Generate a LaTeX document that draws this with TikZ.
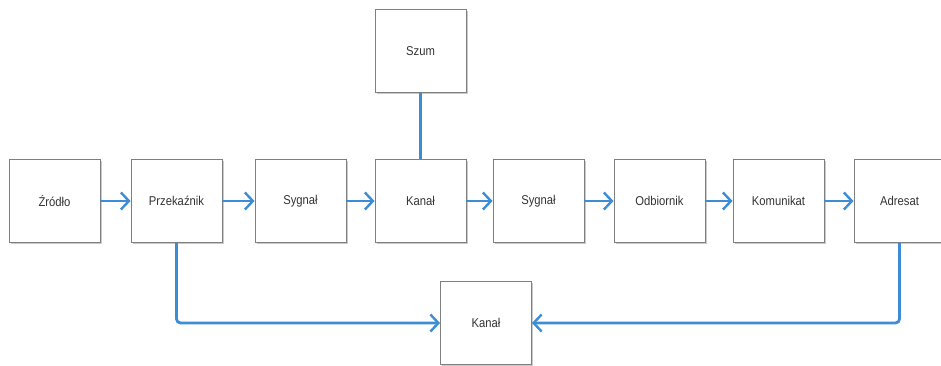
\documentclass[tikz,border=0pt]{standalone}
\usepackage{fontspec}
\setmainfont{Liberation Sans}[FakeStretch=0.88]
\usetikzlibrary{arrows.meta,shadows}
\definecolor{linkblue}{HTML}{3D8CD6}
\definecolor{boxborder}{HTML}{7F7F7F}
\tikzset{
  blockbox/.style={draw=boxborder, line width=0.9pt, fill=white, minimum width=91pt, minimum height=83pt, inner sep=0pt,
    font=\fontsize{12.8}{14}\selectfont, text=black!80,
    drop shadow={shadow xshift=1.6pt, shadow yshift=-1.6pt, opacity=0.35, fill=black!60}},
  conn/.style={draw=linkblue, line width=2.8pt, -{Straight Barb[length=8pt,width=17pt,line width=2.4pt]}},
  plainconn/.style={draw=linkblue, line width=2.8pt},
}
\begin{document}
\begin{tikzpicture}[x=1pt,y=-1pt]
\useasboundingbox (0,0) rectangle (941,366);
\node[blockbox] (zr) at (54.5,201) {Źródło};
\node[blockbox] (pr) at (176.5,201) {Przekaźnik};
\node[blockbox] (s1) at (300.5,201) {Sygnał};
\node[blockbox] (k1) at (420.5,201) {Kanał};
\node[blockbox] (s2) at (538.5,201) {Sygnał};
\node[blockbox] (od) at (659.5,201) {Odbiornik};
\node[blockbox] (ko) at (778.5,201) {Komunikat};
\node[blockbox] (ad) at (899.5,201) {Adresat};
\node[blockbox] (sz) at (420.5,51) {Szum};
\node[blockbox] (k2) at (486,323) {Kanał};
\draw[conn] (zr) -- (pr);
\draw[conn] (pr) -- (s1);
\draw[conn] (s1) -- (k1);
\draw[conn] (k1) -- (s2);
\draw[conn] (s2) -- (od);
\draw[conn] (od) -- (ko);
\draw[conn] (ko) -- (ad);
\draw[plainconn] (sz) -- (k1);
\draw[conn, rounded corners=4pt] (pr.south) |- (k2.west);
\draw[conn, rounded corners=4pt] (ad.south) |- (k2.east);
\end{tikzpicture}
\end{document}
